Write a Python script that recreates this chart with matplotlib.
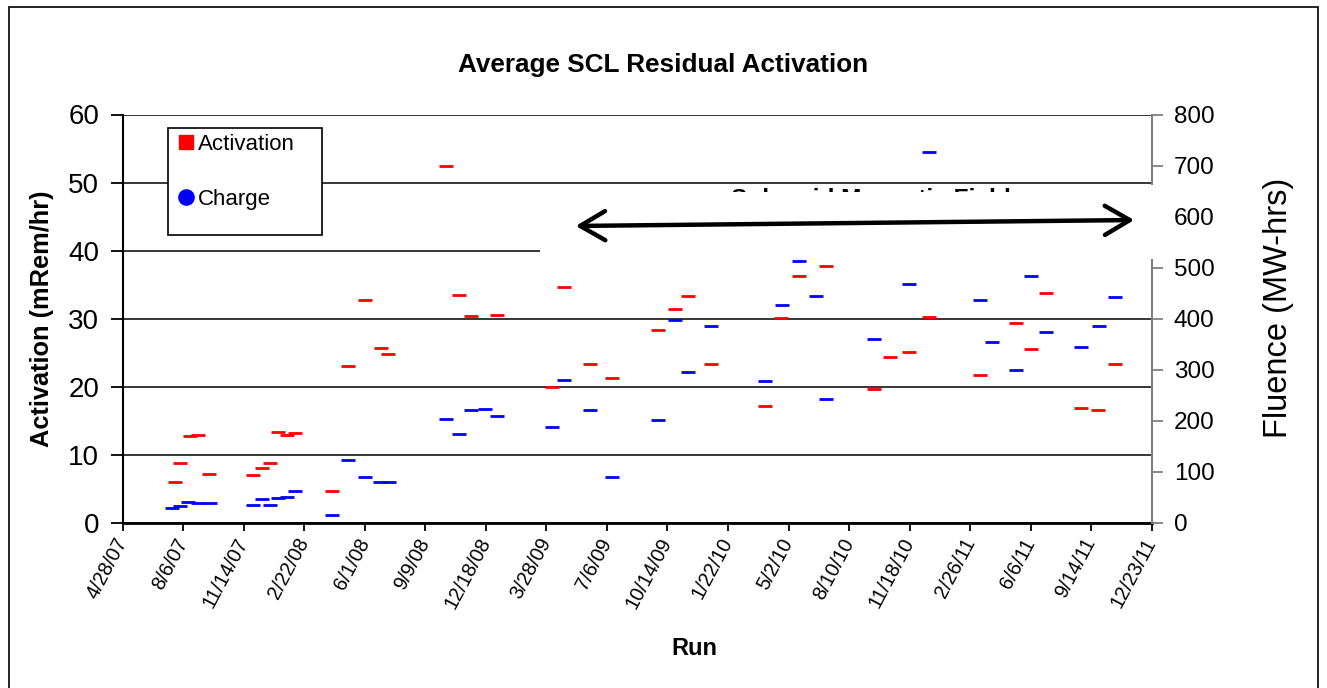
import numpy as np
import pandas as pd
import matplotlib
matplotlib.use("Agg")
import matplotlib.pyplot as plt
from matplotlib.lines import Line2D
from matplotlib.patches import Rectangle, FancyArrowPatch

plt.rcParams['font.family'] = ['Liberation Sans', 'DejaVu Sans']

# Activation (mRem/hr), eje izquierdo
act_dates = ["7/23/07", "8/1/07", "8/17/07", "8/30/07", "9/18/07", "11/30/07", "12/14/07",
             "12/27/07", "1/10/08", "1/24/08", "2/7/08", "4/7/08", "5/5/08", "6/1/08",
             "6/27/08", "7/9/08", "10/13/08", "11/3/08", "11/24/08", "1/6/09", "4/7/09",
             "4/26/09", "6/8/09", "7/14/09", "9/29/09", "10/27/09", "11/17/09", "12/25/09",
             "3/24/10", "4/20/10", "5/19/10", "7/3/10", "9/21/10", "10/16/10", "11/17/10",
             "12/20/10", "3/15/11", "5/12/11", "6/7/11", "7/1/11", "8/29/11", "9/25/11",
             "10/23/11"]
act_values = [6.0, 8.8, 12.7, 12.9, 7.2, 7.0, 8.1,
              8.8, 13.3, 12.9, 13.2, 4.7, 23.1, 32.7,
              25.7, 24.8, 52.4, 33.5, 30.4, 30.6, 20.0,
              34.6, 23.4, 21.3, 28.3, 31.4, 33.3, 23.4,
              17.1, 30.1, 36.3, 37.8, 19.6, 24.3, 25.1,
              30.2, 21.7, 29.3, 25.6, 33.7, 16.8, 16.5,
              23.4]

# Charge / Fluence (MW-hrs), eje derecho
chg_dates = ["7/18/07", "8/1/07", "8/14/07", "8/31/07", "9/19/07", "11/30/07", "12/14/07",
             "12/28/07", "1/10/08", "1/24/08", "2/7/08", "4/7/08", "5/5/08", "6/1/08",
             "6/26/08", "7/11/08", "10/13/08", "11/3/08", "11/24/08", "12/17/08", "1/6/09",
             "4/7/09", "4/26/09", "6/8/09", "7/14/09", "9/29/09", "10/27/09", "11/17/09",
             "12/25/09", "3/24/10", "4/21/10", "5/19/10", "6/16/10", "7/3/10", "9/21/10",
             "11/17/10", "12/20/10", "3/15/11", "4/3/11", "5/12/11", "6/7/11", "7/2/11",
             "8/29/11", "9/27/11", "10/24/11"]
chg_values = [28, 33, 40, 38, 38, 34, 46,
              34, 48, 51, 62, 15, 122, 89,
              80, 80, 203, 173, 220, 222, 210,
              188, 280, 220, 89, 202, 398, 296,
              386, 277, 426, 512, 444, 243, 360,
              467, 726, 437, 354, 299, 484, 373,
              345, 386, 442]

tick_labels = ["4/28/07", "8/6/07", "11/14/07", "2/22/08", "6/1/08", "9/9/08", "12/18/08",
               "3/28/09", "7/6/09", "10/14/09", "1/22/10", "5/2/10", "8/10/10", "11/18/10",
               "2/26/11", "6/6/11", "9/14/11", "12/23/11"]

act_x = pd.to_datetime(act_dates, format="%m/%d/%y")
chg_x = pd.to_datetime(chg_dates, format="%m/%d/%y")
ticks_x = pd.to_datetime(tick_labels, format="%m/%d/%y")

W, H = 1327, 688


def fx(px):
    return px / W


def fy(py):
    return 1 - py / H


fig = plt.figure(figsize=(W / 100, H / 100), dpi=100)
ax = fig.add_axes([fx(122.7), fy(522.7), fx(1151.7) - fx(122.7), fy(114.5) - fy(522.7)])
ax2 = ax.twinx()

# Serie activacion (eje izquierdo)
ax.plot(act_x, act_values, linestyle="none", marker="_", markersize=9.7,
        markeredgewidth=2.0, color="#ff0000", zorder=3)
ax.set_ylim(0, 60)
ax.set_yticks(np.arange(0, 61, 10))
ax.set_xlim(ticks_x[0], ticks_x[-1])
ax.set_xticks(ticks_x)
ax.set_xticklabels(tick_labels, rotation=62, ha="right", va="center", rotation_mode="anchor")
ax.yaxis.grid(True, color="black", linewidth=1.1)
ax.set_axisbelow(True)
ax.tick_params(axis="y", direction="out", length=9, width=1.3, labelsize=20, pad=8)
ax.tick_params(axis="x", direction="out", length=6, width=1.3, labelsize=14.3, pad=6)
for s in ["top", "right"]:
    ax.spines[s].set_visible(False)
ax.spines["left"].set_linewidth(1.5)
ax.spines["bottom"].set_linewidth(2.0)
ax.set_ylabel("Activation (mRem/hr)", fontsize=18.3, fontweight="bold", labelpad=10)
ax.set_xlabel("Run", fontsize=17, fontweight="bold")
ax.xaxis.set_label_coords(0.556, -0.28)

# Serie carga (eje derecho)
ax2.plot(chg_x, chg_values, linestyle="none", marker="_", markersize=9.7,
         markeredgewidth=2.0, color="#0000ff", zorder=3)
ax2.set_ylim(0, 800)
ax2.set_yticks(np.arange(0, 801, 100))
for s in ["top", "left", "bottom"]:
    ax2.spines[s].set_visible(False)
ax2.spines["right"].set_color("#808080")
ax2.spines["right"].set_linewidth(1.5)
ax2.tick_params(axis="y", direction="out", length=8, width=1.3, color="#808080",
                labelsize=17.5, pad=8)
ax2.set_ylabel("Fluence (MW-hrs)", fontsize=23.5)
ax2.yaxis.set_label_coords(1.108, 0.527)

# Titulo
fig.text(0.5, fy(65), "Average SCL Residual Activation", ha="center", va="center",
         fontsize=18.8, fontweight="bold")

# Leyenda
ax2.add_patch(Rectangle((fx(168), fy(235)), fx(322) - fx(168), fy(128) - fy(235),
                        transform=fig.transFigure, facecolor="white", edgecolor="black",
                        linewidth=1.2, clip_on=False, zorder=6))
handles = [Line2D([], [], linestyle="none", marker="s", markersize=10, color="#ff0000"),
           Line2D([], [], linestyle="none", marker="o", markersize=11, color="#0000ff")]
leg = ax2.legend(handles, ["Activation", "Charge"], loc="upper left",
                 bbox_to_anchor=(fx(179), fy(134)), bbox_transform=fig.transFigure,
                 frameon=False, fontsize=16, borderpad=0, borderaxespad=0,
                 handlelength=0.6, handletextpad=0.25, labelspacing=1.52)
leg.set_zorder(7)

# Recuadro de texto "Solenoid Magnetic Field" (recortado) y flecha
ax2.add_patch(Rectangle((fx(540), fy(259)), fx(1163) - fx(540), fy(185) - fy(259),
                        transform=fig.transFigure, facecolor="white", edgecolor="none",
                        clip_on=False, zorder=8))
fig.text(fx(731), fy(188), "Solenoid Magnetic Field", ha="left", va="top",
         fontsize=17.6, fontweight="bold", zorder=9)
fig.patches.append(Rectangle((fx(540), fy(259)), fx(1163) - fx(540), fy(192) - fy(259),
                             transform=fig.transFigure, facecolor="white", edgecolor="none",
                             zorder=10, figure=fig))
fig.patches.append(FancyArrowPatch(
    (fx(573), fy(226)), (fx(1137), fy(220)), transform=fig.transFigure,
    arrowstyle="<->,head_length=1.2,head_width=0.7", mutation_scale=15,
    linewidth=3.2, color="black", zorder=11, figure=fig))

# Marco exterior
fig.patches.append(Rectangle((fx(9), -0.05), fx(1318) - fx(9), fy(7) + 0.05,
                             transform=fig.transFigure, facecolor="none",
                             edgecolor="black", linewidth=1.2, zorder=12, figure=fig))

fig.savefig("out.png", dpi=100)
